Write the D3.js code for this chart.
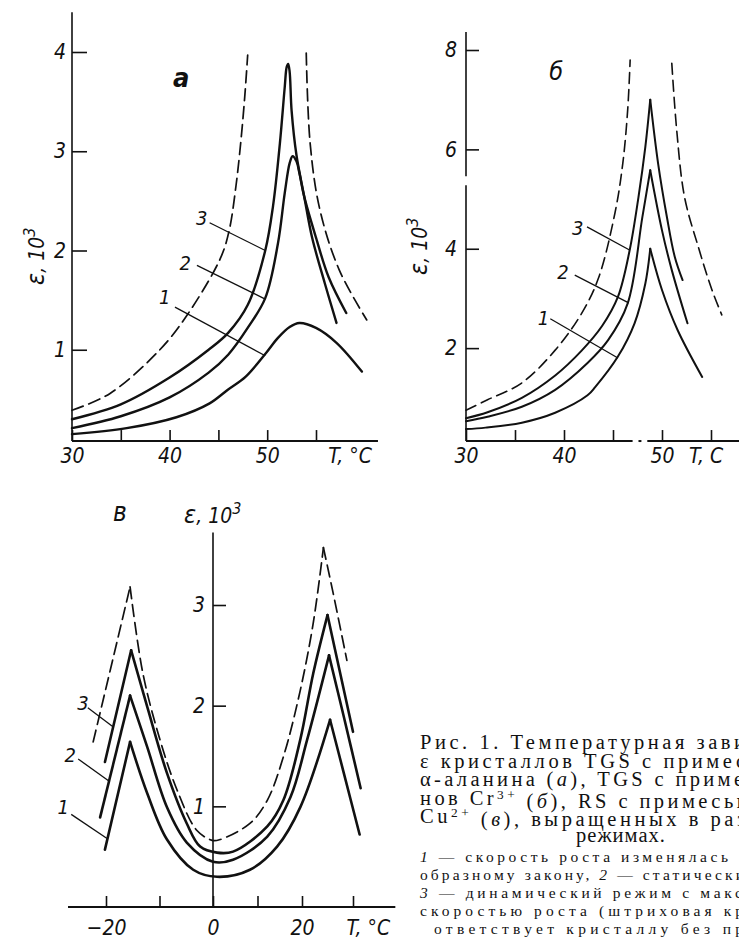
<!DOCTYPE html>
<html>
<head>
<meta charset="utf-8">
<script src="https://cdn.jsdelivr.net/npm/d3@7"></script>
<style>
body { margin: 0; background: #fff; }
svg { display: block; }
.hand, .ax text { font-family: "Liberation Sans Narrow", "DejaVu Sans Condensed", "Liberation Sans", sans-serif; font-style: italic; fill: #111; }
.ax text { font-size: 21px; }
.ax line { stroke: #111; stroke-width: 1.6; }
.cap { font-family: "Liberation Serif", "DejaVu Serif", serif; fill: #111; }
</style>
</head>
<body>
<svg id="fig" width="739" height="939"></svg>
<script>
// ---- panel а : TGS + alpha-alanine
var aTempTicks = [30, 35, 40, 45, 50, 55];
var aTempLabels = [30, 40, 50];
var aEpsTicks = [1, 2, 3, 4];
var aCurve1 = [[30,0.15],[35.6,0.21],[40.7,0.32],[44.1,0.46],[46,0.6],[47.8,0.73],[49.9,0.97],[51.1,1.12],[52.3,1.23],[53.3,1.27],[55,1.22],[57.1,1.07],[59.7,0.78]];
var aCurve2 = [[30,0.21],[35,0.33],[40,0.52],[44,0.77],[46,0.95],[48,1.22],[49.8,1.52],[51.1,2.07],[51.8,2.58],[52.3,2.88],[52.6,2.95],[53.0,2.9],[53.3,2.78],[53.8,2.54],[55,2.13],[56.3,1.73],[58.1,1.37]];
var aCurve3 = [[30,0.30],[35,0.45],[40,0.72],[44,1.0],[46,1.17],[48,1.45],[49.8,2.0],[50.6,2.45],[51.3,3.08],[51.8,3.65],[52.0,3.85],[52.15,3.88],[52.3,3.8],[52.5,3.41],[53.0,2.96],[53.8,2.54],[54.6,2.13],[55.9,1.67],[57.1,1.27]];
var aDashLeft = [[30,0.39],[33.9,0.56],[39,1.0],[41.8,1.35],[45.2,1.92],[46.1,2.2],[46.8,2.65],[47.3,3.1],[47.7,3.55],[48.0,3.97]];
var aDashRight = [[54.0,3.99],[54.4,3.08],[55.4,2.41],[57.4,1.8],[60.2,1.3]];
// label: [text, textT, textV, fromT, fromV, toT, toV]
var aNotes = [["3",43.3,2.33,44.1,2.28,49.8,2.0],["2",41.6,1.87,42.8,1.85,49.8,1.51],["1",39.5,1.53,40.55,1.43,49.8,0.94]];

// ---- panel б : TGS + Cr3+
var bTempTicks = [30, 35, 40, 45, 50, 55];
var bTempLabels = [30, 40, 50];
var bEpsTicks = [2, 4, 6, 8];
var bCurve1 = [[30,0.37],[32,0.4],[35.7,0.5],[39.1,0.7],[42.4,1.05],[43.2,1.22],[45.5,1.83],[47.2,2.5],[48.3,3.3],[48.8,4.0],[50,3.17],[51.6,2.36],[54.1,1.42]];
var bCurve2 = [[30,0.53],[32.2,0.62],[35.7,0.82],[39.1,1.16],[42.4,1.7],[44.5,2.16],[46.5,2.9],[48,4.64],[48.8,5.58],[50,4.37],[51,3.57],[52.6,2.5]];
var bCurve3 = [[30,0.59],[32.2,0.71],[35.7,1.0],[39.1,1.45],[41.8,1.95],[43.9,2.45],[45.5,3.03],[46.7,3.97],[47.6,5.04],[48.3,6.05],[48.8,7.0],[49.6,5.72],[50.5,4.64],[51.3,3.84],[52.1,3.37]];
var bDashLeft = [[30,0.75],[32.2,0.96],[35.7,1.3],[39.1,1.96],[41.8,2.7],[43.5,3.4],[45.2,4.72],[46.0,5.72],[46.5,6.8],[46.75,7.8]];
var bDashRight = [[51.0,7.73],[51.5,6.39],[52.3,5.04],[53.7,4.04],[55.1,3.17],[56.1,2.67]];
var bNotes = [["3",41.4,4.42,42.35,4.44,46.73,3.97],["2",39.9,3.53,41.1,3.47,46.6,2.91],["1",37.9,2.61,38.6,2.59,45.5,1.8]];

// ---- panel в : RS + Cu2+
var cTempTicks = [-20, -10, 0, 10, 20, 30];
var cTempLabels = [-20, 0, 20];
var cEpsTicks = [1, 2, 3];
var cCurve1 = [[-20.2,0.57],[-15.5,1.64],[-12.3,1.13],[-8.6,0.67],[-3.7,0.37],[0.9,0.3],[8.3,0.37],[14.4,0.6],[19.6,0.99],[25.5,1.86],[28.2,1.33],[31.3,0.72]];
var cCurve2 = [[-21.1,0.89],[-15.5,2.1],[-12.3,1.59],[-8.6,0.99],[-4.9,0.64],[0,0.45],[4.5,0.47],[12.2,0.7],[17.4,1.09],[21,1.66],[25.3,2.5],[28.2,1.89],[31.5,1.18]];
var cCurve3 = [[-20.2,1.44],[-15.3,2.55],[-12.3,1.99],[-8.6,1.33],[-4.9,0.83],[-2.4,0.6],[0.9,0.54],[4.5,0.55],[12.2,0.8],[15.8,1.06],[19.6,1.66],[22.2,2.32],[25,2.9],[27.5,2.32],[30,1.74]];
var cDash = [[-22.4,1.64],[-15.5,3.18],[-13.1,2.32],[-9.9,1.66],[-6.7,1.16],[-3.0,0.76],[0,0.66],[1.6,0.67],[8.3,0.83],[12.2,1.06],[15.8,1.49],[19.6,2.15],[22.2,2.82],[24.2,3.57],[26.1,3.12],[28.8,2.45]];
var cNotes = [["3",-24.3,2.03,-23.4,1.98,-18.7,1.79],["2",-26.7,1.51,-25.2,1.47,-19.4,1.25],["1",-28.0,0.99,-26.5,0.92,-19.8,0.68]];

var svg = d3.select("#fig");
svg.append("rect").attr("width", 739).attr("height", 939).attr("fill", "#fff");

// split a curve at its local maxima so the peaks stay sharp
function pieces(pts, sharp) {
    if (!sharp) return [pts];
    var out = [], cur = [pts[0]];
    for (var i = 1; i < pts.length; i++) {
        cur.push(pts[i]);
        if (i < pts.length - 1 && pts[i][1] > pts[i-1][1] && pts[i][1] > pts[i+1][1]) {
            out.push(cur);
            cur = [pts[i]];
        }
    }
    out.push(cur);
    return out;
}

function curves(g, x, y, list, sharp, width, dash) {
    var line = d3.line()
        .x(function (d) { return x(d[0]); })
        .y(function (d) { return y(d[1]); })
        .curve(d3.curveCatmullRom.alpha(0.5));
    list.forEach(function (pts) {
        pieces(pts, sharp).forEach(function (p) {
            g.append("path")
                .attr("d", line(p))
                .attr("fill", "none")
                .attr("stroke", "#111")
                .attr("stroke-width", width)
                .attr("stroke-linejoin", "round")
                .attr("stroke-linecap", "round")
                .attr("stroke-dasharray", dash || null);
        });
    });
}

function notes(g, x, y, list) {
    list.forEach(function (n) {
        g.append("line")
            .attr("x1", x(n[3])).attr("y1", y(n[4]))
            .attr("x2", x(n[5])).attr("y2", y(n[6]))
            .attr("stroke", "#111").attr("stroke-width", 1.3);
        g.append("text").attr("class", "hand")
            .attr("x", x(n[1])).attr("y", y(n[2]))
            .attr("text-anchor", "middle").attr("dy", "0.35em")
            .style("font-size", "20px")
            .text(n[0]);
    });
}

function axisLine(g, x1, y1, x2, y2, w) {
    g.append("line").attr("x1", x1).attr("y1", y1).attr("x2", x2).attr("y2", y2)
        .attr("stroke", "#111").attr("stroke-width", w).attr("stroke-linecap", "butt");
}

function epsLabel(g, tx, ty, rotate) {
    var t = g.append("text").attr("class", "hand")
        .attr("transform", "translate(" + tx + "," + ty + ")" + (rotate ? " rotate(-90)" : ""))
        .style("font-size", "21px");
    t.append("tspan").style("font-size", "25px").text("ε");
    t.append("tspan").text(", 10");
    t.append("tspan").attr("dy", "-0.55em").style("font-size", "16px").text("3");
}

var fmtInt = d3.format("d");

// ================= panel а
var xA = d3.scaleLinear().domain([30, 55]).range([72, 316]);
var yA = d3.scaleLinear().domain([0, 4]).range([449, 52]);
var gA = svg.append("g");
var baseA = yA(0.08);
axisLine(gA, xA(30), yA(4.4), xA(30), baseA, 1.6);
axisLine(gA, xA(30), baseA, xA(61.35), baseA, 2);
gA.append("g").attr("class", "ax").attr("transform", "translate(0," + baseA + ")")
    .call(d3.axisBottom(xA).tickValues(aTempTicks).tickSizeInner(-11).tickSizeOuter(0).tickPadding(7)
        .tickFormat(function (d) { return aTempLabels.indexOf(d) >= 0 ? d : ""; }))
    .call(function (g) { g.select(".domain").remove(); });
gA.append("g").attr("class", "ax").attr("transform", "translate(" + xA(30) + ",0)")
    .call(d3.axisLeft(yA).tickValues(aEpsTicks).tickFormat(fmtInt).tickSizeInner(-15).tickSizeOuter(0).tickPadding(6))
    .call(function (g) { g.select(".domain").remove(); });
gA.append("text").attr("class", "hand").attr("x", xA(58.5)).attr("y", baseA + 22)
    .attr("text-anchor", "middle").style("font-size", "21px").text("T, °C");
epsLabel(gA, 44, 285, true);
gA.append("text").attr("class", "hand").attr("x", xA(41.2)).attr("y", yA(3.65))
    .attr("text-anchor", "middle").style("font-size", "27px").style("font-weight", "bold").text("а");
curves(gA, xA, yA, [aDashLeft, aDashRight], false, 1.7, "12,6");
curves(gA, xA, yA, [aCurve1, aCurve2, aCurve3], false, 2.4);
notes(gA, xA, yA, aNotes);

// ================= panel б
var xB = d3.scaleLinear().domain([30, 55]).range([466, 711]);
var yB = d3.scaleLinear().domain([0, 8]).range([447.5, 50]);
var gB = svg.append("g");
var baseB = yB(0.13);
axisLine(gB, xB(30), yB(8.36), xB(30), yB(5.46), 1.6);
axisLine(gB, xB(30), yB(5.28), xB(30), baseB, 1.6);
axisLine(gB, xB(30), baseB, xB(47.0), baseB, 2);
axisLine(gB, xB(47.6), baseB, xB(47.9), baseB, 2);
axisLine(gB, xB(48.5), baseB, xB(58.5), baseB, 2);
gB.append("g").attr("class", "ax").attr("transform", "translate(0," + baseB + ")")
    .call(d3.axisBottom(xB).tickValues(bTempTicks).tickSizeInner(-11).tickSizeOuter(0).tickPadding(7)
        .tickFormat(function (d) { return bTempLabels.indexOf(d) >= 0 ? d : ""; }))
    .call(function (g) { g.select(".domain").remove(); });
gB.append("g").attr("class", "ax").attr("transform", "translate(" + xB(30) + ",0)")
    .call(d3.axisLeft(yB).tickValues(bEpsTicks).tickFormat(fmtInt).tickSizeInner(-13).tickSizeOuter(0).tickPadding(9))
    .call(function (g) { g.select(".domain").remove(); });
gB.append("text").attr("class", "hand").attr("x", xB(54.5)).attr("y", baseB + 22)
    .attr("text-anchor", "middle").style("font-size", "21px").text("T, C");
epsLabel(gB, 427, 275, true);
gB.append("text").attr("class", "hand").attr("x", xB(39.2)).attr("y", yB(7.4))
    .attr("text-anchor", "middle").style("font-size", "25px").text("б");
curves(gB, xB, yB, [bDashLeft, bDashRight], false, 1.6, "11,6");
curves(gB, xB, yB, [bCurve1, bCurve2, bCurve3], true, 2.0);
notes(gB, xB, yB, bNotes);

// ================= panel в
var xC = d3.scaleLinear().domain([-20, 0, 20, 30]).range([106, 213, 302, 353]);
var yC = d3.scaleLinear().domain([0, 3]).range([907, 605]);
var gC = svg.append("g");
var baseC = yC(0);
axisLine(gC, xC(0), yC(3.72), xC(0), baseC, 1.6);
axisLine(gC, xC(-27.1), baseC, xC(38.3), baseC, 2);
gC.append("g").attr("class", "ax").attr("transform", "translate(0," + baseC + ")")
    .call(d3.axisBottom(xC).tickValues(cTempTicks).tickSizeInner(-11).tickSizeOuter(0).tickPadding(13)
        .tickFormat(function (d) { return cTempLabels.indexOf(d) >= 0 ? (d < 0 ? "−" + (-d) : d) : ""; }))
    .call(function (g) { g.select(".domain").remove(); });
gC.append("g").attr("class", "ax").attr("transform", "translate(" + xC(0) + ",0)")
    .call(d3.axisLeft(yC).tickValues(cEpsTicks).tickFormat(fmtInt).tickSizeInner(-13).tickSizeOuter(0).tickPadding(8))
    .call(function (g) { g.select(".domain").remove(); });
gC.append("text").attr("class", "hand").attr("x", xC(33)).attr("y", baseC + 28)
    .attr("text-anchor", "middle").style("font-size", "21px").text("T, °C");
epsLabel(gC, 184, 523, false);
gC.append("text").attr("class", "hand").attr("x", xC(-17.4)).attr("y", 521)
    .attr("text-anchor", "middle").style("font-size", "26px").text("в");
curves(gC, xC, yC, [cDash], true, 1.7, "12,6");
curves(gC, xC, yC, [cCurve1, cCurve2, cCurve3], true, 2.6);
notes(gC, xC, yC, cNotes);

// ================= caption (cut at the right edge, as in the scan)
var cap = svg.append("g").attr("class", "cap");
function capLine(y, parts, x0, x1, size) {
    var t = cap.append("text").attr("x", x0).attr("y", y).style("font-size", size + "px")
        .attr("textLength", x1 - x0).attr("lengthAdjust", "spacing");
    parts.forEach(function (p) {
        var s = t.append("tspan").text(p[0]);
        if (p[1] === "i") s.style("font-style", "italic");
        if (p[1] === "sup") s.attr("dy", "-0.45em").style("font-size", (size * 0.65) + "px");
        if (p[1] === "down") s.attr("dy", "0.45em");
    });
}
capLine(749, [["Рис. 1. Температурная зави"]], 420, 745, 20.5);
capLine(767.5, [["ε кристаллов TGS с примес"]], 420, 745, 20.5);
capLine(786, [["α-аланина ("], ["а", "i"], ["), TGS с приме"]], 420, 743, 20.5);
capLine(804.5, [["нов Cr"], ["3+", "sup"], [" (", "down"], ["б", "i"], ["), RS с примесью"]], 420, 752, 20.5);
capLine(823, [["Cu"], ["2+", "sup"], [" (", "down"], ["в", "i"], ["), выращенных в раз"]], 420, 745, 20.5);
cap.append("text").attr("x", 621).attr("y", 842).attr("text-anchor", "middle")
    .style("font-size", "20.5px").style("letter-spacing", "1px").text("режимах.");
capLine(862, [["1", "i"], [" — скорость роста изменялась"]], 420, 728, 15.5);
capLine(880, [["образному закону, "], ["2", "i"], [" — статически"]], 420, 744, 15.5);
capLine(898, [["3", "i"], [" — динамический режим с макс"]], 420, 742, 15.5);
capLine(916, [["скоростью роста (штриховая кр"]], 420, 743, 15.5);
capLine(934, [["ответствует кристаллу без пр"]], 434, 743, 15.5);
</script>
</body>
</html>
